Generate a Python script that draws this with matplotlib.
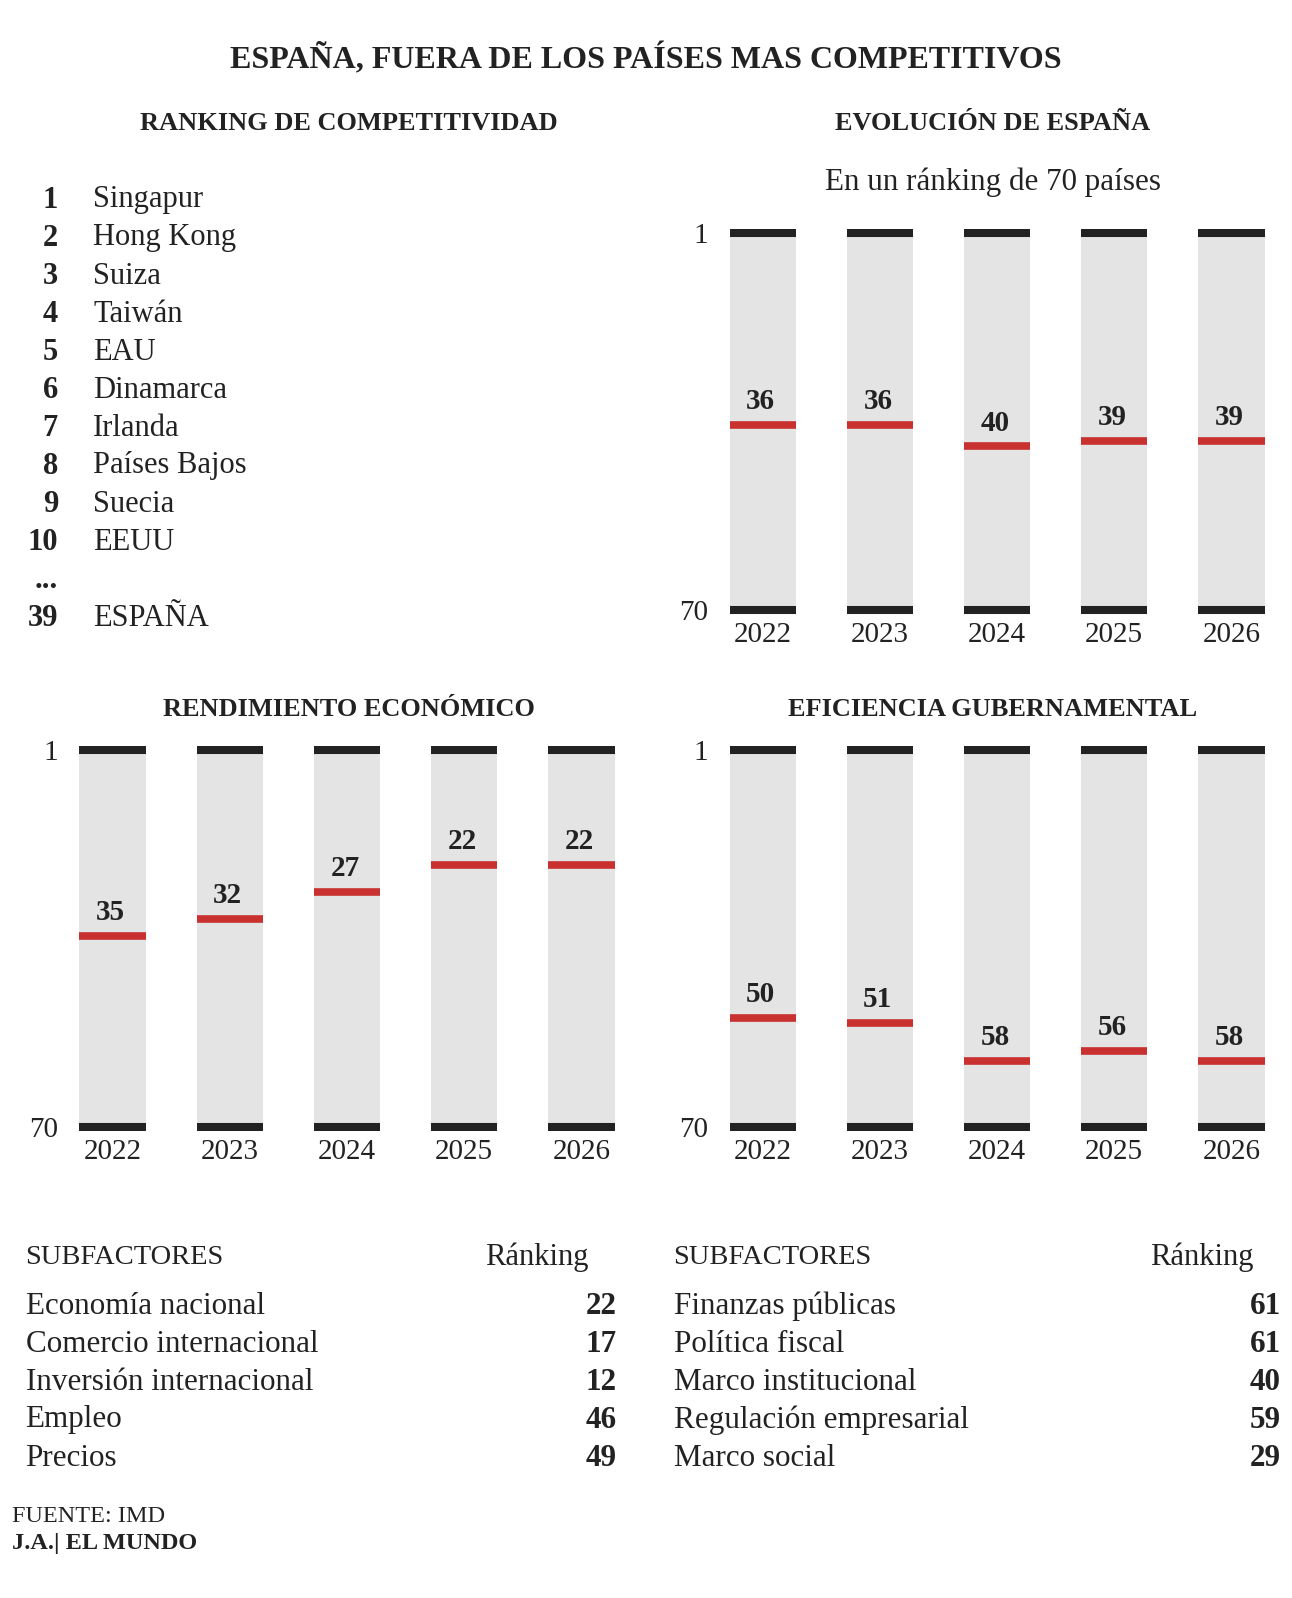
import matplotlib
matplotlib.use("Agg")
import matplotlib.pyplot as plt

plt.rcParams['font.family'] = ['Liberation Serif', 'DejaVu Serif']

W, H, DPI = 1292, 1598, 100
INK = '#222222'
GRAY = '#e4e4e4'
RED = '#c8312f'

# datos
years = ['2022', '2023', '2024', '2025', '2026']
evolucion = [36, 36, 40, 39, 39]
rendimiento = [35, 32, 27, 22, 22]
eficiencia = [50, 51, 58, 56, 58]

top_pos = [1, 2, 3, 4, 5, 6, 7, 8, 9, 10]
top_paises = ['Singapur', 'Hong Kong', 'Suiza', 'Taiwán', 'EAU', 'Dinamarca',
              'Irlanda', 'Países Bajos', 'Suecia', 'EEUU']
espana_pos = 39

sub_eco_names = ['Economía nacional', 'Comercio internacional',
                 'Inversión internacional', 'Empleo', 'Precios']
sub_eco_rank = [22, 17, 12, 46, 49]
sub_gob_names = ['Finanzas públicas', 'Política fiscal', 'Marco institucional',
                 'Regulación empresarial', 'Marco social']
sub_gob_rank = [61, 61, 40, 59, 29]

RANK_MIN, RANK_MAX = 1, 70
BAR_W = 0.565

fig = plt.figure(figsize=(W / DPI, H / DPI), dpi=DPI)


def fx(px):
    return px / W


def fy(py):
    return 1 - py / H


def txt(x, y, s, **kw):
    kw.setdefault('color', INK)
    kw.setdefault('va', 'center')
    fig.text(fx(x), fy(y + 3), s, **kw)


def rank_chart(x0, x_step, y_top, y_bot, values):
    # x0: centro de la primera barra (px), y_top/y_bot: posicion de 1 y 70 (px)
    unit = (y_bot - y_top) / (RANK_MAX - RANK_MIN)
    pad = 0.8
    left = x0 - 0.5 * x_step
    top = y_top - pad * unit
    bottom = y_bot + pad * unit
    ax = fig.add_axes([fx(left), fy(bottom), 5 * x_step / W, (bottom - top) / H])
    x = list(range(len(years)))
    ax.bar(x, RANK_MAX - RANK_MIN, bottom=RANK_MIN, width=BAR_W, color=GRAY, zorder=1)
    xl = [i - BAR_W / 2 for i in x]
    xr = [i + BAR_W / 2 for i in x]
    ax.hlines([RANK_MIN] * len(x), xl, xr, color=INK, lw=5.8, capstyle='butt', zorder=3)
    ax.hlines([RANK_MAX] * len(x), xl, xr, color=INK, lw=5.8, capstyle='butt', zorder=3)
    ax.hlines(values, xl, xr, color=RED, lw=5.5, capstyle='butt', zorder=3)
    for i, v in zip(x, values):
        ax.annotate(str(v), (i, v), xytext=(-1.5, 11.5), textcoords='offset points',
                    ha='center', va='baseline', fontsize=21, fontweight='bold', color=INK)
    ax.set_xlim(-0.5, len(x) - 0.5)
    ax.set_ylim(RANK_MAX + pad, RANK_MIN - pad)
    ax.set_xticks(x)
    ax.set_xticklabels(years, fontsize=21, color=INK)
    ax.set_yticks([RANK_MIN, RANK_MAX])
    ax.set_yticklabels([str(RANK_MIN), str(RANK_MAX)], fontsize=21, color=INK)
    ax.tick_params(axis='both', length=0)
    ax.tick_params(axis='x', pad=5.5)
    ax.tick_params(axis='y', pad=-3)
    for s in ax.spines.values():
        s.set_visible(False)
    ax.patch.set_alpha(0)
    return ax


# titulo
txt(646, 56, 'ESPAÑA, FUERA DE LOS PAÍSES MAS COMPETITIVOS', ha='center',
    fontsize=23, fontweight='bold')

# ranking de competitividad
txt(349, 121, 'RANKING DE COMPETITIVIDAD', ha='center', fontsize=19, fontweight='bold')
row0, step = 197, 38
for k, (p, n) in enumerate(zip(top_pos, top_paises)):
    y = row0 + k * step
    txt(58, y, str(p), ha='right', fontsize=22, fontweight='bold')
    txt(93, y, n, ha='left', fontsize=22)
txt(58, row0 + 10 * step + 1, '...', ha='right', fontsize=22, fontweight='bold')
txt(58, row0 + 11 * step, str(espana_pos), ha='right', fontsize=22, fontweight='bold')
txt(93, row0 + 11 * step, 'ESPAÑA', ha='left', fontsize=22)

# evolucion de espana
txt(993, 121, 'EVOLUCIÓN DE ESPAÑA', ha='center', fontsize=19, fontweight='bold')
txt(993, 179, 'En un ránking de 70 países', ha='center', fontsize=22.4)
rank_chart(762.7, 117.2, 233.4, 610.4, evolucion)

# rendimiento economico / eficiencia gubernamental
txt(349, 707, 'RENDIMIENTO ECONÓMICO', ha='center', fontsize=19, fontweight='bold')
rank_chart(112.6, 117.2, 750, 1127, rendimiento)
txt(993, 707, 'EFICIENCIA GUBERNAMENTAL', ha='center', fontsize=19, fontweight='bold')
rank_chart(762.7, 117.2, 750, 1127, eficiencia)


# subfactores
def sub_table(x_name, x_rank_hdr, x_num, names, ranks):
    txt(x_name, 1254, 'SUBFACTORES', ha='left', fontsize=20.5)
    txt(x_rank_hdr, 1254, 'Ránking', ha='right', fontsize=22)
    for k, (n, r) in enumerate(zip(names, ranks)):
        y = 1303 + k * 38
        txt(x_name, y, n, ha='left', fontsize=22.4)
        txt(x_num, y, str(r), ha='right', fontsize=22.4, fontweight='bold')


sub_table(25.5, 589, 616.5, sub_eco_names, sub_eco_rank)
sub_table(673.5, 1254, 1281, sub_gob_names, sub_gob_rank)

# fuente
txt(12, 1514, 'FUENTE: IMD', ha='left', fontsize=17.5)
txt(12, 1540, 'J.A.| EL MUNDO', ha='left', fontsize=17.5, fontweight='bold')

fig.savefig('out.png', dpi=DPI, facecolor='white')
